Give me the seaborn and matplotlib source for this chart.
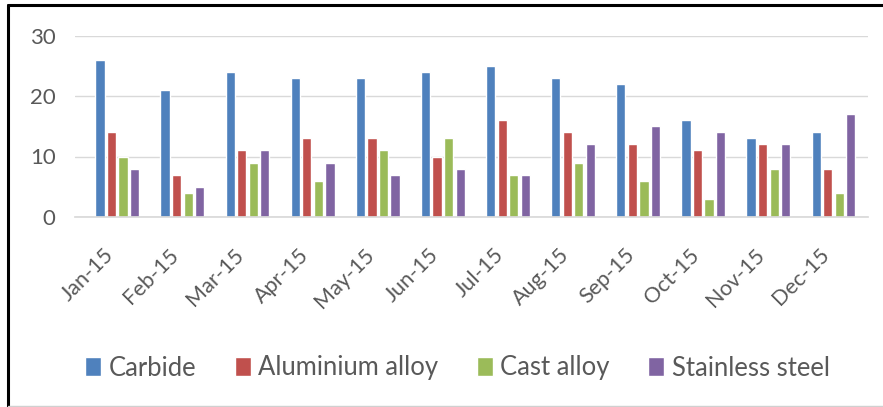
import matplotlib
matplotlib.use("Agg")
import matplotlib.pyplot as plt
import seaborn as sns
import pandas as pd
from matplotlib.lines import Line2D

months = ["Jan-15", "Feb-15", "Mar-15", "Apr-15", "May-15", "Jun-15",
          "Jul-15", "Aug-15", "Sep-15", "Oct-15", "Nov-15", "Dec-15"]
carbide = [26, 21, 24, 23, 23, 24, 25, 23, 22, 16, 13, 14]
aluminium = [14, 7, 11, 13, 13, 10, 16, 14, 12, 11, 12, 8]
cast = [10, 4, 9, 6, 11, 13, 7, 9, 6, 3, 8, 4]
stainless = [8, 5, 11, 9, 7, 8, 7, 12, 15, 14, 12, 17]
series_names = ["Carbide", "Aluminium alloy", "Cast alloy", "Stainless steel"]
yticks = [0, 10, 20, 30]

rows = []
for name, vals in zip(series_names, [carbide, aluminium, cast, stainless]):
    for m, v in zip(months, vals):
        rows.append({"Month": m, "Material": name, "Value": v})
df = pd.DataFrame(rows)

sns.set_theme(style="white")
plt.rcParams['font.family'] = ['Lato', 'DejaVu Sans']

colors = ["#4F81BD", "#C0504D", "#9BBB59", "#8064A2"]
W, H = 883, 407
fig = plt.figure(figsize=(W / 100, H / 100), dpi=100)
ax = fig.add_axes([75 / W, 190 / H, 793 / W, 181.5 / H])

sns.barplot(data=df, x="Month", y="Value", hue="Material", order=months,
            hue_order=series_names, palette=colors, width=0.71, gap=0.2,
            saturation=1, ax=ax, legend=True)

ax.set_xlim(-0.65, 11.53)
ax.set_ylim(0, 30)
ax.set_yticks(yticks)
ax.set_yticklabels([str(t) for t in yticks], fontsize=16, color="#595959")
ax.tick_params(axis="y", pad=14, length=0)
ax.tick_params(axis="x", length=0, pad=20)
xfs = 14
for lab in ax.get_xticklabels():
    lab.set_rotation(45)
    lab.set_ha("right")
    lab.set_va("top")
    lab.set_fontsize(xfs)
    lab.set_color("#595959")
ax.yaxis.grid(True, color="#D9D9D9", linewidth=1)
ax.set_axisbelow(True)
for s in ["top", "right", "left"]:
    ax.spines[s].set_visible(False)
ax.spines["bottom"].set_color("#D9D9D9")
ax.set_xlabel("")
ax.set_ylabel("")

lfs = 17
def make_legend(fs):
    lg = ax.legend(loc="center", bbox_to_anchor=(457.5 / W, 39 / H), bbox_transform=fig.transFigure,
                   ncol=4, frameon=False, fontsize=fs, handlelength=0.62, handleheight=0.72,
                   handletextpad=0.3, columnspacing=1.5, borderpad=0, borderaxespad=0)
    for t in lg.get_texts():
        t.set_color("#595959")
    return lg

leg = make_legend(lfs)
# fit legend width and tick-label size to the reference layout
for _ in range(3):
    fig.canvas.draw()
    r = fig.canvas.get_renderer()
    bb = leg.get_window_extent(r)
    lfs = lfs * 745.0 / bb.width
    leg.remove()
    leg = make_legend(lfs)
    lbb = ax.get_xticklabels()[0].get_window_extent(r)
    xfs = xfs * 60.0 / lbb.width
    for lab in ax.get_xticklabels():
        lab.set_fontsize(xfs)

fig.add_artist(Line2D([0.009, 0.009], [0.0, 0.988], transform=fig.transFigure,
                      color="black", linewidth=2.2))
fig.add_artist(Line2D([0.009, 1.0], [0.988, 0.988], transform=fig.transFigure,
                      color="black", linewidth=2.2))
fig.add_artist(Line2D([0.009, 1.0], [0.003, 0.003], transform=fig.transFigure,
                      color="#D0D0D0", linewidth=1))

fig.savefig("out.png", dpi=100)
